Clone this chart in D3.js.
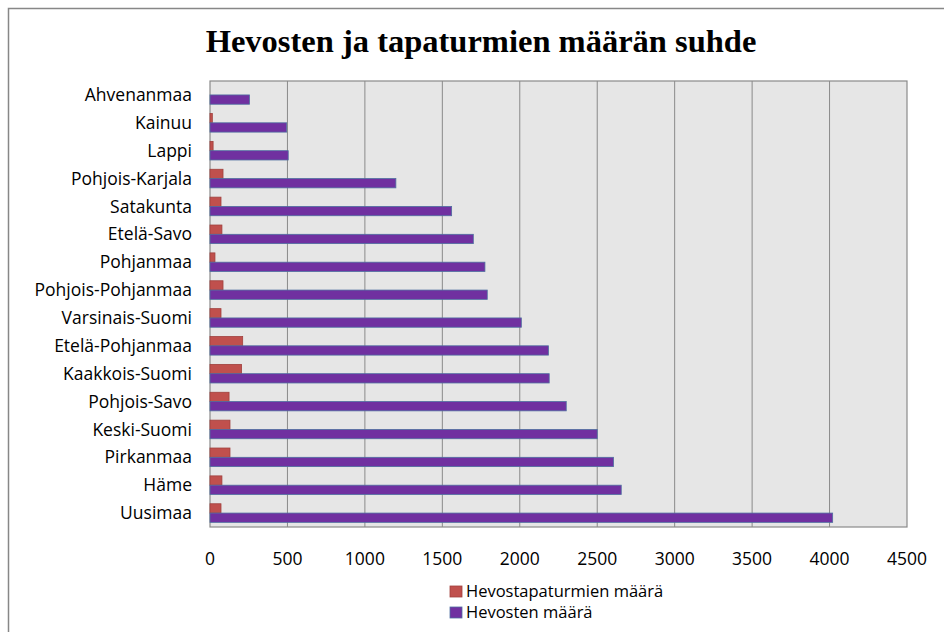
<!DOCTYPE html>
<html>
<head>
<meta charset="utf-8">
<script src="https://cdn.jsdelivr.net/npm/d3@7"></script>
<style>
    body { margin: 0; background: #fff; }
    svg { display: block; }
    .cat-label, .tick-label, .legend-label { font-family: "Open Sans", sans-serif; fill: #000; }
</style>
</head>
<body>
<svg class="chart" width="944" height="632"></svg>
<script>
// chart data
const regions = ['Ahvenanmaa', 'Kainuu', 'Lappi', 'Pohjois-Karjala', 'Satakunta', 'Etelä-Savo',
    'Pohjanmaa', 'Pohjois-Pohjanmaa', 'Varsinais-Suomi', 'Etelä-Pohjanmaa', 'Kaakkois-Suomi',
    'Pohjois-Savo', 'Keski-Suomi', 'Pirkanmaa', 'Häme', 'Uusimaa']
const accidents = [0, 15, 20, 84, 71, 77, 32, 84, 71, 211, 204, 123, 129, 129, 77, 71]
const horses = [255, 495, 505, 1200, 1560, 1700, 1775, 1790, 2010, 2185, 2190, 2300, 2500, 2605, 2655, 4020]
const xTicks = [0, 500, 1000, 1500, 2000, 2500, 3000, 3500, 4000, 4500]
const seriesNames = ['Hevostapaturmien määrä', 'Hevosten määrä']

const svg = d3.select('.chart')

// outer chart border (runs off the right and bottom edge)
svg.append('rect')
    .attr('x', 8.5).attr('y', 8.5)
    .attr('width', 944).attr('height', 632)
    .attr('fill', 'none')
    .attr('stroke', '#878787')
    .attr('stroke-width', 1.5)

svg.append('text')
    .attr('x', 481).attr('y', 52)
    .attr('text-anchor', 'middle')
    .style('font-family', '"Liberation Serif", "Times New Roman", serif')
    .style('font-weight', 'bold')
    .style('font-size', '32.5px')
    .text('Hevosten ja tapaturmien määrän suhde')

const plot = { left: 210, right: 907, top: 81, bottom: 527 }

const x = d3.scaleLinear().domain([0, 4500]).range([plot.left, plot.right])
const y = d3.scaleBand().domain(regions).range([plot.top, plot.bottom])
// two bars per category, gap of one bar width
const bar = y.bandwidth() / 3

svg.append('rect')
    .attr('x', plot.left).attr('y', plot.top)
    .attr('width', plot.right - plot.left).attr('height', plot.bottom - plot.top)
    .attr('fill', '#e6e6e6')

svg.selectAll('.grid')
    .data(xTicks.slice(1, -1))
    .enter()
    .append('line')
    .attr('x1', d => x(d)).attr('x2', d => x(d))
    .attr('y1', plot.top).attr('y2', plot.bottom)
    .attr('stroke', '#8a8a8a')
    .attr('stroke-width', 1)

svg.append('rect')
    .attr('x', plot.left).attr('y', plot.top)
    .attr('width', plot.right - plot.left).attr('height', plot.bottom - plot.top)
    .attr('fill', 'none')
    .attr('stroke', '#8a8a8a')
    .attr('stroke-width', 1.2)

// accidents (red, upper bar)
svg.selectAll('.acc')
    .data(regions)
    .enter()
    .append('rect')
    .attr('x', x(0))
    .attr('y', d => y(d) + bar / 2)
    .attr('width', (d, i) => x(accidents[i]) - x(0))
    .attr('height', bar)
    .attr('fill', '#c0504d')
    .attr('stroke', '#a0403d')
    .attr('stroke-width', 0.8)

// horses (purple, lower bar)
svg.selectAll('.hor')
    .data(regions)
    .enter()
    .append('rect')
    .attr('x', x(0))
    .attr('y', d => y(d) + bar * 1.5)
    .attr('width', (d, i) => x(horses[i]) - x(0))
    .attr('height', bar)
    .attr('fill', '#7030a0')
    .attr('stroke', '#4f6fa0')
    .attr('stroke-width', 0.8)

svg.selectAll('.cat-label')
    .data(regions)
    .enter()
    .append('text')
    .attr('class', 'cat-label')
    .attr('x', 192)
    .attr('y', d => y(d) + y.bandwidth() / 2)
    .attr('dy', '0.35em')
    .attr('text-anchor', 'end')
    .style('font-size', '17.5px')
    .text(d => d)

svg.selectAll('.tick-label')
    .data(xTicks)
    .enter()
    .append('text')
    .attr('class', 'tick-label')
    .attr('x', d => x(d))
    .attr('y', 565)
    .attr('text-anchor', 'middle')
    .style('font-size', '17.5px')
    .text(d => d)

const legend = svg.selectAll('.legend')
    .data(seriesNames)
    .enter()
    .append('g')
    .attr('transform', (d, i) => `translate(450, ${591 + i * 21})`)

legend.append('rect')
    .attr('x', 0).attr('y', -5)
    .attr('width', 12).attr('height', 11)
    .attr('fill', (d, i) => i ? '#7030a0' : '#c0504d')
    .attr('stroke', (d, i) => i ? '#4f6fa0' : '#a0403d')
    .attr('stroke-width', 0.8)

legend.append('text')
    .attr('class', 'legend-label')
    .attr('x', 16)
    .attr('dy', '0.35em')
    .style('font-size', '16.5px')
    .text(d => d)
</script>
</body>
</html>
